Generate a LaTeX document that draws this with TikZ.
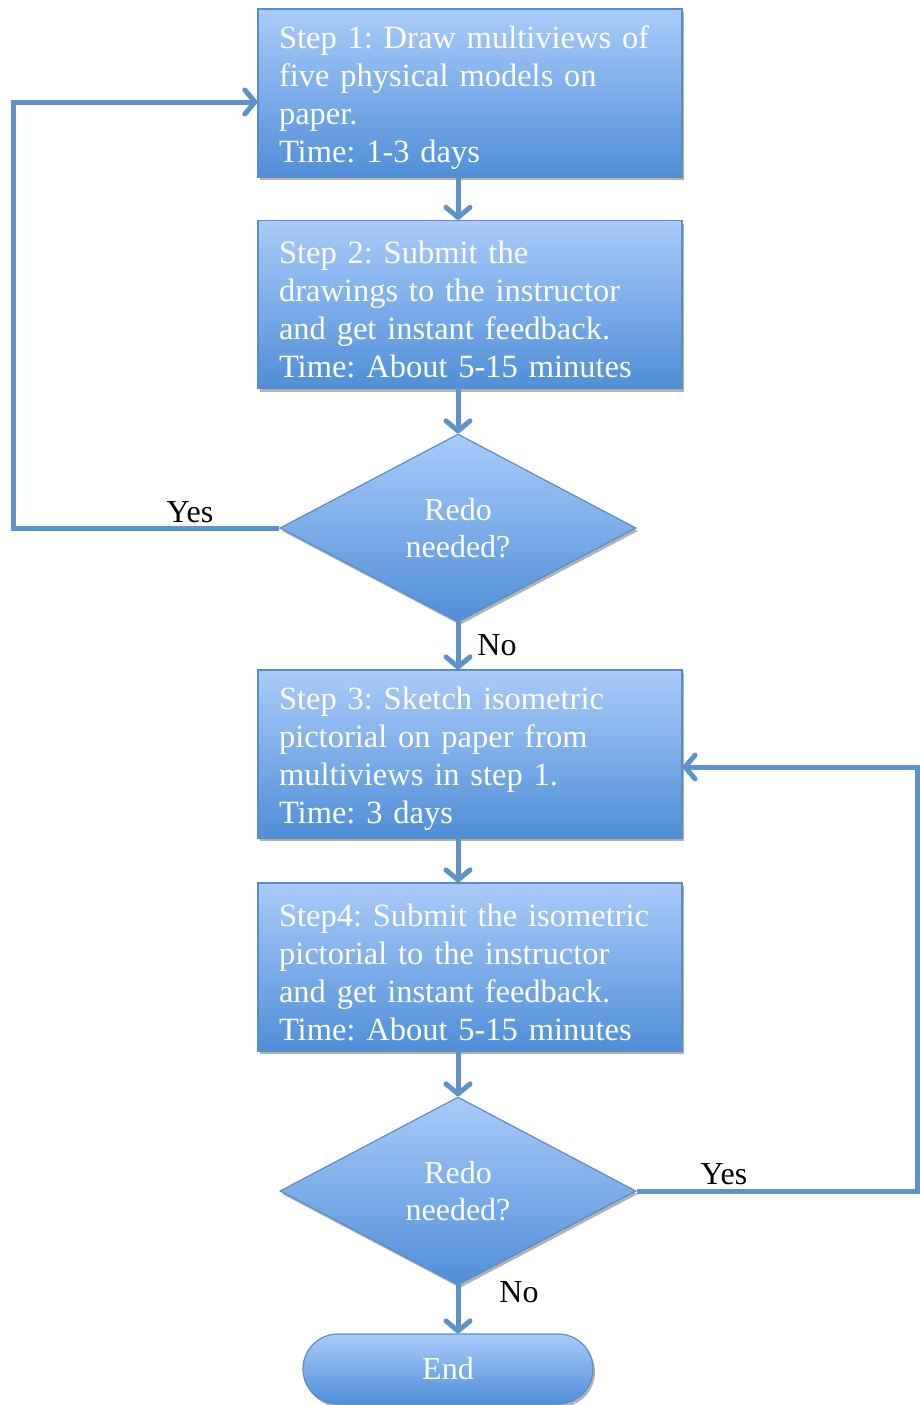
\documentclass[tikz,border=0pt]{standalone}
\usepackage{fontspec}
\setmainfont{Liberation Serif}
\usetikzlibrary{shapes.geometric,shapes.misc,arrows.meta,shadows}
\definecolor{topc}{HTML}{AACBFA}
\definecolor{botc}{HTML}{4F8FD7}
\definecolor{edgec}{HTML}{5A8DC6}
\definecolor{linec}{HTML}{5E93CA}
\frenchspacing
\newcommand\mytailfix{\endgraf\vspace*{-10pt}}
\begin{document}
\begin{tikzpicture}[x=1pt,y=-1pt,
  shade/.style={drop shadow={shadow xshift=2pt,shadow yshift=-3pt,opacity=0.3,fill=black}},
  stepbox/.style={shade,draw=edgec,line width=1.2pt,top color=topc,bottom color=botc,
    minimum width=424pt,minimum height=168pt,text width=382pt,align=left,
    inner xsep=21pt,inner ysep=0pt,text=white,font=\fontsize{32.5}{38}\selectfont,
    execute at end node=\mytailfix},
  decide/.style={shade,diamond,draw=edgec,line width=1.2pt,top color=topc,bottom color=botc,
    minimum width=356pt,minimum height=188pt,inner sep=0pt,align=center,text=white,
    font=\fontsize{32}{37}\selectfont},
  term/.style={shade,rounded rectangle,draw=edgec,line width=1.2pt,top color=topc,bottom color=botc,
    minimum width=290pt,minimum height=70pt,inner sep=0pt,text=white,font=\fontsize{32}{37}\selectfont},
  conn/.style={draw=linec,line width=5pt,line cap=round,
    -{Straight Barb[length=10pt,width=24pt,line cap=round,line join=round]}},
  lbl/.style={text=black,font=\fontsize{32}{37}\selectfont,inner sep=0pt}]
\useasboundingbox (0,0) rectangle (919,1405);
\node[stepbox] (b1) at (470,93) {Step 1: Draw multiviews of\\five physical models on\\paper.\\Time: 1-3 days};
\node[stepbox] (b2) at (470,304.5) {Step 2: Submit the\\drawings to the instructor\\and get instant feedback.\\Time: About 5-15 minutes};
\node[decide] (d1) at (458,528) {Redo\\needed?};
\node[stepbox] (b3) at (470,754) {Step 3: Sketch isometric\\pictorial on paper from\\multiviews in step 1.\\Time: 3 days};
\node[stepbox] (b4) at (470,967) {Step4: Submit the isometric\\pictorial to the instructor\\and get instant feedback.\\Time: About 5-15 minutes};
\node[decide] (d2) at (458,1191) {Redo\\needed?};
\node[term] (e) at (448,1369) {End};
\coordinate (L) at (13,102);
\coordinate (R) at (917,767);
\draw[conn] (d1.north |- b1.south) -- (d1.north |- b2.north);
\draw[conn] (d1.north |- b2.south) -- (d1.north);
\draw[conn] (d1.south) -- (d1.south |- b3.north);
\draw[conn] (d1.south |- b3.south) -- (d1.south |- b4.north);
\draw[conn] (d2.north |- b4.south) -- (d2.north);
\draw[conn] (d2.south) -- (d2.south |- e.north);
\draw[conn,line cap=butt] (d1.west) -| (L) -- (b1.west |- L);
\draw[conn,line cap=butt] (d2.east) -| (R) -- (b3.east |- R);
\node[lbl] (y1) at (190,512) {Yes};
\node[lbl] (n1) at (497,645) {No};
\node[lbl] (y2) at (724,1174) {Yes};
\node[lbl] (n2) at (519,1292) {No};
\end{tikzpicture}
\end{document}
